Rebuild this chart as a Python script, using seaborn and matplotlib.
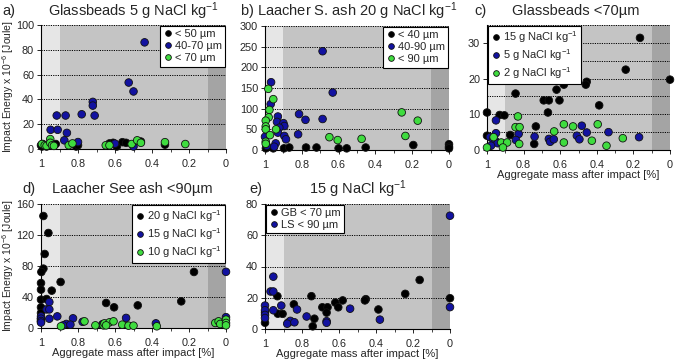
import matplotlib
matplotlib.use("Agg")
import matplotlib.pyplot as plt
import pandas as pd
import seaborn as sns
from matplotlib.ticker import MultipleLocator

sns.set_style("ticks")
plt.rcParams['font.family'] = ['Liberation Sans', 'DejaVu Sans']
plt.rcParams['mathtext.fontset'] = 'custom'
plt.rcParams['mathtext.rm'] = 'Liberation Sans'
plt.rcParams['mathtext.it'] = 'Liberation Sans:italic'

# ----- data (x = aggregate mass after impact, y = impact energy) -----
# a) Glassbeads 5 g NaCl/kg
a_black_x = [1.0, 0.995, 0.99, 0.985, 0.97, 0.93, 0.92, 0.81, 0.80, 0.63, 0.61, 0.59, 0.56, 0.54, 0.46, 0.33]
a_black_y = [3, 2, 4, 3, 2, 3, 4, 2, 3, 4.5, 5, 2, 5.5, 5, 6, 3.5]
a_blue_x = [0.44, 0.526, 0.50, 0.72, 0.72, 0.71, 0.78, 0.915, 0.867, 0.948, 0.91, 0.86, 0.874, 0.80, 0.60, 0.50]
a_blue_y = [86, 53.6, 46.4, 38, 35, 27, 28, 27, 27, 15.5, 15.5, 13, 7, 5.6, 4.3, 2]
a_green_x = [0.995, 0.98, 0.97, 0.95, 0.95, 0.94, 0.93, 0.85, 0.83, 0.65, 0.63, 0.51, 0.48, 0.46, 0.33, 0.22]
a_green_y = [4, 3, 2.5, 8, 5, 3, 2.5, 3, 4.5, 3, 3, 4, 7, 5, 5.5, 4]
a_labels = ["< 50 µm", "40-70 µm", "< 70 µm"]

# b) Laacher S. ash 20 g NaCl/kg
b_black_x = [0.995, 0.955, 0.897, 0.868, 0.777, 0.72, 0.6, 0.556, 0.453, 0.194, 0.0, 0.0, 0.0]
b_black_y = [4, 4, 4, 6, 6, 6, 4, 4, 6, 12, 14, 8, 4]
b_blue_x = [0.687, 0.632, 0.967, 0.969, 0.815, 0.78, 0.687, 0.93, 0.935, 0.9, 0.895, 0.922,
            0.93, 0.895, 0.886, 0.82, 0.942, 1.0, 0.95, 0.99]
b_blue_y = [239, 139, 164, 111, 87, 73, 75, 81, 68, 65, 58, 54, 42, 34, 26, 38, 16, 32, 8, 10]
b_green_x = [0.982, 0.955, 0.976, 0.98, 0.996, 0.996, 0.996, 0.94, 0.973, 0.996, 0.996,
             0.65, 0.605, 0.475, 0.257, 0.17, 0.237]
b_green_y = [148, 123, 97, 79, 71, 57, 50, 50, 36, 20, 15, 31, 24, 27, 91, 71, 34]
b_labels = ["< 40 µm", "40-90 µm", "< 90 µm"]

# c) Glassbeads <70 µm
c_black_x = [0.164, 0.242, 0.0, 0.933, 0.749, 0.455, 0.46, 0.58, 0.62, 0.844, 0.69, 0.662,
             0.604, 0.387, 1.0, 0.667, 0.931, 0.905, 0.733, 1.0, 0.873, 0.742]
c_black_y = [31.4, 22.5, 19.7, 21, 21, 19.1, 18.3, 18.3, 16.9, 15.8, 13.9, 13.9,
             13.9, 12.5, 10.5, 10.5, 9.8, 9.7, 6.6, 4.0, 4.2, 1.7]
c_blue_x = [0.951, 0.951, 0.827, 0.842, 0.984, 0.967, 0.953, 0.942, 0.978, 0.74, 0.662,
            0.655, 0.635, 0.509, 0.495, 0.482, 0.455, 0.336, 0.169]
c_blue_y = [8.3, 4.7, 4.5, 2.8, 3.6, 3.0, 2.5, 1.9, 1.2, 3.75, 3.1, 2.3, 3.0, 4.0, 3.0,
            6.8, 4.9, 5.0, 3.6]
c_green_x = [0.831, 0.844, 0.822, 0.58, 0.53, 0.395, 0.633, 0.824, 0.58, 0.427, 0.347,
             0.258, 0.964, 0.922, 0.89, 1.0, 0.913]
c_green_y = [9.4, 6.4, 6.4, 7.2, 6.6, 7.2, 5.2, 1.7, 2.1, 2.6, 1.2, 3.3, 3.6, 2.1, 2.1,
             0.7, 0.7]
c_labels = ["15 g NaCl kg$^{-1}$", "5 g NaCl kg$^{-1}$", "2 g NaCl kg$^{-1}$"]

# d) Laacher See ash <90 µm
d_black_x = [0.987, 0.96, 0.98, 0.987, 0.998, 1.0, 1.0, 0.942, 0.894, 1.0, 0.97, 1.0,
             1.0, 1.0, 1.0, 0.26, 0.173, 0.242, 0.648, 0.605, 0.477]
d_black_y = [144.5, 122.6, 95.5, 76.6, 72.3, 58, 49.5, 48.2, 59.4, 36.6, 37.4, 26.7,
             19.4, 12, 8.6, 90.3, 72.3, 34.4, 32.3, 26.7, 29.2]
d_blue_x = [1.0, 1.0, 1.0, 1.0, 0.955, 0.97, 0.955, 0.955, 0.912, 0.827, 0.863, 0.88,
            0.841, 0.775, 0.667, 0.667, 0.54, 0.379, 0.0, 0.0]
d_blue_y = [15, 12, 9, 7, 33.5, 24, 24, 12, 15, 12.5, 5.2, 3.4, 4.3, 8, 5, 4, 13, 6,
            72.5, 14]
d_green_x = [0.765, 0.892, 0.706, 0.662, 0.657, 0.63, 0.608, 0.648, 0.561, 0.527, 0.5,
             0.374, 0.058, 0.04, 0.031, 0.0, 0.0, 0.0]
d_green_y = [8.6, 2.2, 3.4, 3.4, 6.0, 7.3, 8.6, 3.4, 4.3, 3, 3, 2.2, 6.5, 8.6, 5.2,
             10.8, 6.5, 3.4]
d_labels = ["20 g NaCl kg$^{-1}$", "15 g NaCl kg$^{-1}$", "10 g NaCl kg$^{-1}$"]

# e) 15 g NaCl/kg: glassbeads (c black) and Laacher See ash (d blue)
e_labels = ["GB < 70 µm", "LS < 90 µm"]

COLORS = ["#000000", "#1212a0", "#3fdc3f"]
LIGHT, MID, DARK = "#e6e6e6", "#c4c4c4", "#a4a4a4"

W, H = 675, 361
fig = plt.figure(figsize=(W / 100, H / 100), dpi=100)


def make_ax(left, top, right, bottom):
    return fig.add_axes([left / W, 1 - bottom / H, (right - left) / W, (bottom - top) / H])


def panel(ax, series, labels, ymax, ystep, yminor, loc):
    frames = []
    for (xs, ys), lab in zip(series, labels):
        frames.append(pd.DataFrame({"x": xs, "y": ys, "grp": lab}))
    df = pd.concat(frames, ignore_index=True)
    ax.axvspan(1.0, 0.9, color=LIGHT, zorder=0, lw=0)
    ax.axvspan(0.9, 0.1, color=MID, zorder=0, lw=0)
    ax.axvspan(0.1, 0.0, color=DARK, zorder=0, lw=0)
    sns.scatterplot(data=df, x="x", y="y", hue="grp", hue_order=labels,
                    palette=COLORS[:len(labels)], s=30, edgecolor="#111111",
                    linewidth=0.6, ax=ax, clip_on=False, zorder=3)
    ax.set_xlim(1, 0)
    ax.set_ylim(0, ymax)
    ax.xaxis.set_major_locator(MultipleLocator(0.2))
    ax.xaxis.set_minor_locator(MultipleLocator(0.1))
    ax.xaxis.set_major_formatter(matplotlib.ticker.FuncFormatter(lambda v, p: f"{v:g}"))
    ax.yaxis.set_major_locator(MultipleLocator(ystep))
    ax.yaxis.set_minor_locator(MultipleLocator(yminor))
    ax.grid(axis="y", which="both", color="black", linestyle=(0, (1.2, 1.2)), linewidth=0.7)
    ax.set_axisbelow(True)
    for sp in ["top", "right"]:
        ax.spines[sp].set_visible(False)
    for sp in ["left", "bottom"]:
        ax.spines[sp].set_color("black")
        ax.spines[sp].set_linewidth(0.8)
    ax.tick_params(axis="both", which="major", labelsize=7.8, length=3, width=0.7, pad=2)
    ax.tick_params(axis="x", which="major", pad=4)
    ax.tick_params(axis="x", which="minor", length=2, width=0.6)
    ax.tick_params(axis="y", which="minor", length=0)
    ax.set_xlabel("")
    ax.set_ylabel("")
    handles, labs = ax.get_legend_handles_labels()
    leg = ax.legend(handles, labs, loc=loc, fontsize=8, frameon=True, fancybox=False,
                    edgecolor="black", framealpha=1, borderpad=0.3, labelspacing=0.2,
                    handletextpad=0.1, handlelength=1.0, borderaxespad=0.05,
                    markerscale=0.75)
    leg.get_frame().set_linewidth(0.8)
    return ax


ax_a = make_ax(41, 25, 226, 149)
panel(ax_a, [(a_black_x, a_black_y), (a_blue_x, a_blue_y), (a_green_x, a_green_y)],
      a_labels, 100, 20, 20, "upper right")
ax_b = make_ax(265, 26, 449, 150)
panel(ax_b, [(b_black_x, b_black_y), (b_blue_x, b_blue_y), (b_green_x, b_green_y)],
      b_labels, 300, 50, 50, "upper right")
ax_c = make_ax(487, 25, 670, 150)
panel(ax_c, [(c_black_x, c_black_y), (c_blue_x, c_blue_y), (c_green_x, c_green_y)],
      c_labels, 35, 10, 5, "upper left")
ax_d = make_ax(41, 204, 226, 328)
panel(ax_d, [(d_black_x, d_black_y), (d_blue_x, d_blue_y), (d_green_x, d_green_y)],
      d_labels, 160, 40, 40, "upper right")
ax_e = make_ax(265, 204, 450, 329)
panel(ax_e, [(c_black_x, c_black_y), (d_blue_x, d_blue_y)],
      e_labels, 80, 20, 20, "upper left")

ylab = "Impact Energy x 10$^{-6}$ [Joule]"
for ax in (ax_a, ax_d):
    ax.set_ylabel(ylab, fontsize=7.5)
    ax.yaxis.set_label_coords(-25 / 185, 0.5)
xlab = "Aggregate mass after impact [%]"
for ax in (ax_c, ax_d, ax_e):
    ax.set_xlabel(xlab, fontsize=8, labelpad=0)

tfs = 10.5
fig.text(2 / W, 1 - 11 / H, "a)", fontsize=tfs, va="center", ha="left")
fig.text(133 / W, 1 - 11 / H, "Glassbeads 5 g NaCl kg$^{-1}$", fontsize=tfs, va="center", ha="center")
fig.text(349 / W, 1 - 11 / H, "b) Laacher S. ash 20 g NaCl kg$^{-1}$", fontsize=tfs, va="center", ha="center")
fig.text(474 / W, 1 - 11 / H, "c)", fontsize=tfs, va="center", ha="left")
fig.text(576 / W, 1 - 11 / H, "Glassbeads <70µm", fontsize=tfs, va="center", ha="center")
fig.text(22 / W, 1 - 189 / H, "d)", fontsize=tfs, va="center", ha="left")
fig.text(132 / W, 1 - 189 / H, "Laacher See ash <90µm", fontsize=tfs, va="center", ha="center")
fig.text(249 / W, 1 - 189 / H, "e)", fontsize=tfs, va="center", ha="left")
fig.text(358 / W, 1 - 189 / H, "15 g NaCl kg$^{-1}$", fontsize=tfs, va="center", ha="center")

fig.savefig("out.png", dpi=100)
